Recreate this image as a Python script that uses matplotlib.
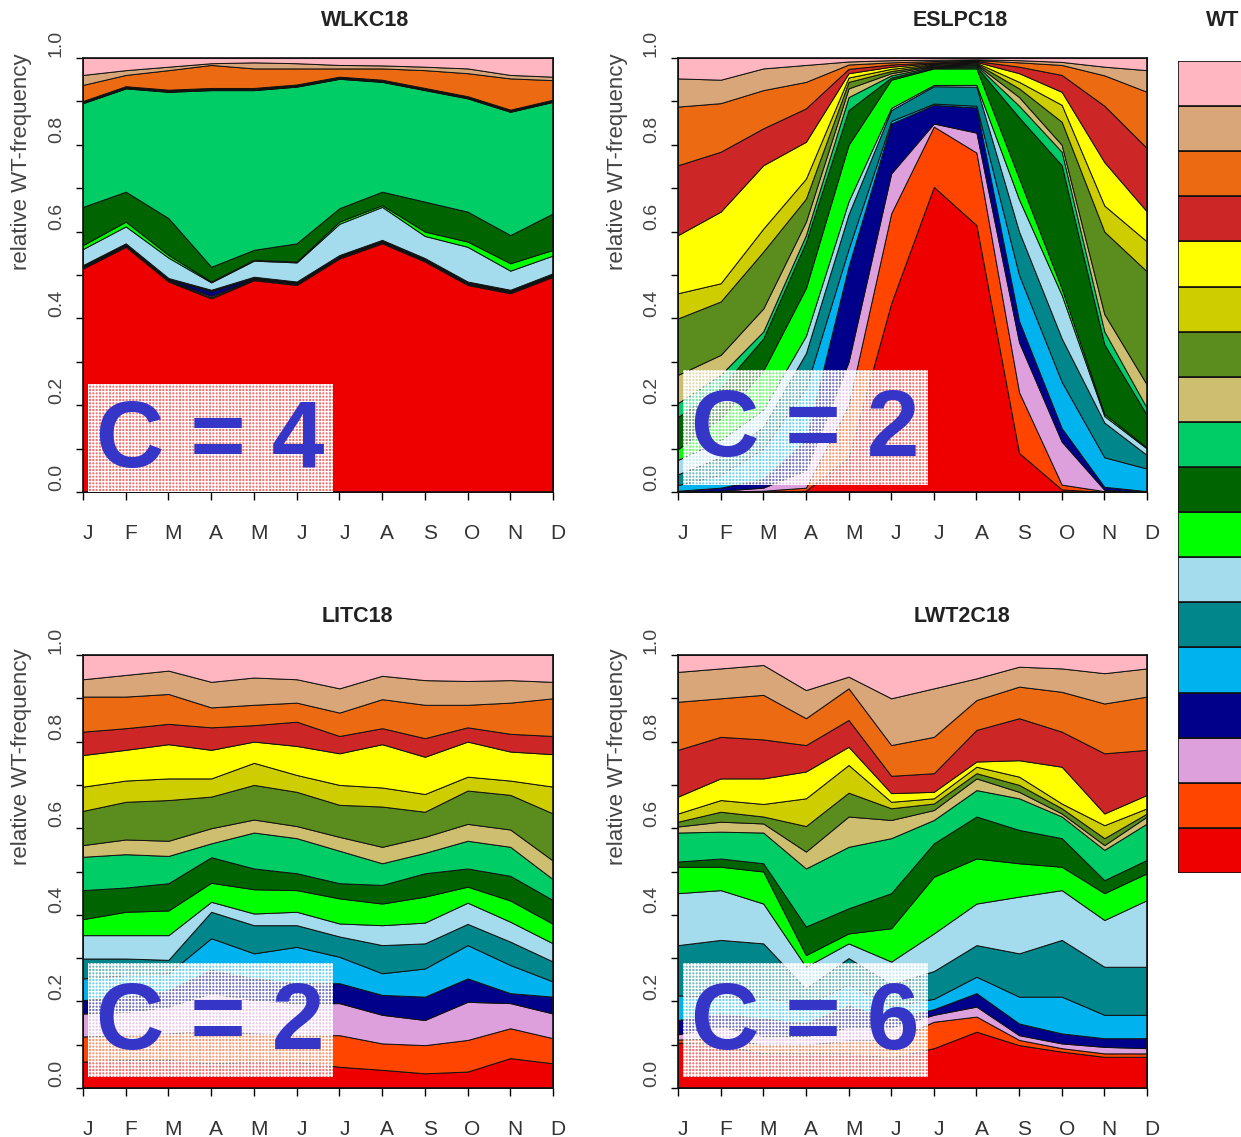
import numpy as np
import matplotlib
matplotlib.use('Agg')
import matplotlib.pyplot as plt
from matplotlib.patches import Rectangle
from matplotlib.transforms import ScaledTranslation

plt.rcParams['font.family'] = ['Liberation Sans', 'DejaVu Sans']
plt.rcParams['hatch.color'] = 'white'
plt.rcParams['hatch.linewidth'] = 0.9

months = ['J', 'F', 'M', 'A', 'M', 'J', 'J', 'A', 'S', 'O', 'N', 'D']

# WT classes 1 (bottom) .. 18 (top)
wt_colors = ['#EE0000', '#FF4500', '#DDA0DD', '#00008B', '#00B2EE', '#00868B',
             '#A4DCEE', '#00FF00', '#006400', '#00CD66', '#CDBE70', '#5B8C1E',
             '#CDCD00', '#FFFF00', '#CD2626', '#EC6A12', '#D9A67A', '#FFB6C1']

# cumulative relative WT-frequency (upper edge of class 1..18), Jan..Dec
wlkc18 = [
    [0.515, 0.565, 0.485, 0.446, 0.488, 0.477, 0.538, 0.573, 0.531, 0.477, 0.458, 0.496],
    [0.517, 0.567, 0.487, 0.449, 0.490, 0.479, 0.540, 0.575, 0.533, 0.479, 0.460, 0.498],
    [0.519, 0.569, 0.489, 0.452, 0.492, 0.481, 0.542, 0.577, 0.535, 0.481, 0.462, 0.500],
    [0.521, 0.571, 0.491, 0.462, 0.494, 0.483, 0.544, 0.579, 0.537, 0.483, 0.464, 0.502],
    [0.522, 0.572, 0.492, 0.464, 0.495, 0.484, 0.545, 0.580, 0.538, 0.484, 0.465, 0.503],
    [0.523, 0.573, 0.493, 0.466, 0.496, 0.485, 0.546, 0.581, 0.539, 0.485, 0.466, 0.504],
    [0.560, 0.612, 0.540, 0.483, 0.533, 0.529, 0.618, 0.657, 0.590, 0.565, 0.510, 0.545],
    [0.569, 0.623, 0.546, 0.485, 0.535, 0.531, 0.623, 0.661, 0.600, 0.577, 0.527, 0.558],
    [0.657, 0.692, 0.631, 0.519, 0.558, 0.573, 0.654, 0.692, 0.669, 0.646, 0.592, 0.642],
    [0.896, 0.930, 0.922, 0.926, 0.926, 0.934, 0.952, 0.945, 0.926, 0.907, 0.876, 0.899],
    [0.897, 0.931, 0.923, 0.927, 0.927, 0.935, 0.953, 0.946, 0.927, 0.908, 0.877, 0.900],
    [0.898, 0.932, 0.924, 0.928, 0.928, 0.936, 0.954, 0.947, 0.928, 0.909, 0.878, 0.901],
    [0.899, 0.933, 0.925, 0.929, 0.929, 0.937, 0.955, 0.948, 0.929, 0.910, 0.879, 0.902],
    [0.900, 0.934, 0.926, 0.930, 0.930, 0.938, 0.956, 0.949, 0.930, 0.911, 0.880, 0.903],
    [0.901, 0.935, 0.927, 0.931, 0.931, 0.939, 0.957, 0.950, 0.931, 0.912, 0.881, 0.904],
    [0.938, 0.961, 0.972, 0.984, 0.976, 0.976, 0.976, 0.976, 0.972, 0.965, 0.953, 0.949],
    [0.961, 0.972, 0.980, 0.988, 0.990, 0.988, 0.984, 0.983, 0.980, 0.976, 0.961, 0.957],
    [1.0, 1.0, 1.0, 1.0, 1.0, 1.0, 1.0, 1.0, 1.0, 1.0, 1.0, 1.0],
]

eslpc18 = [
    [0.0, 0.0, 0.0, 0.003, 0.08, 0.435, 0.703, 0.615, 0.09, 0.006, 0.0, 0.0],
    [0.0, 0.001, 0.003, 0.01, 0.20, 0.642, 0.842, 0.782, 0.23, 0.017, 0.002, 0.0],
    [0.0, 0.003, 0.01, 0.05, 0.30, 0.734, 0.849, 0.828, 0.345, 0.116, 0.005, 0.0],
    [0.003, 0.01, 0.03, 0.12, 0.52, 0.849, 0.892, 0.886, 0.394, 0.147, 0.012, 0.002],
    [0.016, 0.04, 0.10, 0.24, 0.56, 0.855, 0.895, 0.89, 0.50, 0.254, 0.08, 0.054],
    [0.041, 0.08, 0.15, 0.32, 0.64, 0.88, 0.935, 0.934, 0.60, 0.354, 0.16, 0.085],
    [0.074, 0.12, 0.19, 0.36, 0.67, 0.885, 0.938, 0.938, 0.674, 0.454, 0.175, 0.10],
    [0.099, 0.17, 0.28, 0.47, 0.80, 0.95, 0.976, 0.976, 0.723, 0.469, 0.18, 0.102],
    [0.173, 0.24, 0.354, 0.576, 0.88, 0.955, 0.978, 0.98, 0.863, 0.753, 0.34, 0.177],
    [0.205, 0.27, 0.37, 0.592, 0.91, 0.96, 0.98, 0.983, 0.89, 0.784, 0.37, 0.193],
    [0.27, 0.316, 0.423, 0.623, 0.93, 0.965, 0.982, 0.985, 0.91, 0.80, 0.41, 0.247],
    [0.40, 0.439, 0.554, 0.676, 0.945, 0.97, 0.984, 0.987, 0.93, 0.853, 0.60, 0.508],
    [0.458, 0.481, 0.607, 0.722, 0.955, 0.975, 0.986, 0.989, 0.945, 0.892, 0.66, 0.577],
    [0.592, 0.646, 0.753, 0.807, 0.965, 0.98, 0.988, 0.991, 0.965, 0.922, 0.76, 0.646],
    [0.753, 0.784, 0.838, 0.884, 0.975, 0.985, 0.99, 0.993, 0.98, 0.961, 0.89, 0.792],
    [0.888, 0.896, 0.926, 0.945, 0.985, 0.99, 0.993, 0.995, 0.99, 0.984, 0.96, 0.922],
    [0.953, 0.95, 0.976, 0.984, 0.992, 0.995, 0.996, 0.997, 0.995, 0.991, 0.98, 0.972],
    [1.0, 1.0, 1.0, 1.0, 1.0, 1.0, 1.0, 1.0, 1.0, 1.0, 1.0, 1.0],
]

litc18 = [
    [0.061, 0.065, 0.065, 0.057, 0.061, 0.061, 0.049, 0.042, 0.034, 0.038, 0.069, 0.057],
    [0.119, 0.122, 0.126, 0.134, 0.126, 0.122, 0.122, 0.103, 0.099, 0.111, 0.138, 0.115],
    [0.172, 0.176, 0.188, 0.219, 0.203, 0.196, 0.196, 0.169, 0.157, 0.199, 0.196, 0.172],
    [0.203, 0.211, 0.226, 0.273, 0.253, 0.242, 0.242, 0.215, 0.211, 0.253, 0.219, 0.211],
    [0.253, 0.261, 0.265, 0.346, 0.311, 0.326, 0.303, 0.265, 0.276, 0.330, 0.284, 0.246],
    [0.299, 0.299, 0.296, 0.407, 0.376, 0.376, 0.350, 0.330, 0.334, 0.379, 0.338, 0.292],
    [0.353, 0.353, 0.353, 0.430, 0.403, 0.407, 0.380, 0.376, 0.382, 0.428, 0.384, 0.334],
    [0.390, 0.407, 0.410, 0.474, 0.459, 0.457, 0.438, 0.426, 0.442, 0.465, 0.433, 0.379],
    [0.457, 0.463, 0.473, 0.533, 0.507, 0.496, 0.473, 0.469, 0.496, 0.507, 0.490, 0.434],
    [0.534, 0.540, 0.536, 0.565, 0.590, 0.577, 0.548, 0.519, 0.543, 0.571, 0.557, 0.482],
    [0.561, 0.574, 0.571, 0.600, 0.620, 0.605, 0.580, 0.557, 0.580, 0.610, 0.597, 0.525],
    [0.640, 0.661, 0.665, 0.673, 0.700, 0.684, 0.654, 0.650, 0.638, 0.687, 0.677, 0.634],
    [0.696, 0.710, 0.715, 0.715, 0.751, 0.723, 0.700, 0.694, 0.679, 0.719, 0.710, 0.696],
    [0.769, 0.781, 0.794, 0.781, 0.800, 0.790, 0.773, 0.794, 0.765, 0.800, 0.777, 0.771],
    [0.823, 0.831, 0.841, 0.833, 0.838, 0.846, 0.813, 0.831, 0.808, 0.833, 0.818, 0.813],
    [0.904, 0.904, 0.910, 0.879, 0.885, 0.890, 0.867, 0.898, 0.885, 0.885, 0.890, 0.900],
    [0.944, 0.954, 0.964, 0.938, 0.948, 0.944, 0.923, 0.952, 0.942, 0.940, 0.942, 0.938],
    [1.0, 1.0, 1.0, 1.0, 1.0, 1.0, 1.0, 1.0, 1.0, 1.0, 1.0, 1.0],
]

lwt2c18 = [
    [0.105, 0.100, 0.080, 0.080, 0.080, 0.070, 0.092, 0.130, 0.099, 0.084, 0.072, 0.072],
    [0.112, 0.115, 0.100, 0.100, 0.110, 0.110, 0.153, 0.165, 0.111, 0.092, 0.080, 0.080],
    [0.124, 0.142, 0.120, 0.120, 0.140, 0.140, 0.169, 0.188, 0.122, 0.103, 0.095, 0.092],
    [0.157, 0.172, 0.160, 0.150, 0.190, 0.160, 0.182, 0.219, 0.149, 0.126, 0.115, 0.115],
    [0.214, 0.211, 0.210, 0.190, 0.240, 0.190, 0.206, 0.257, 0.211, 0.211, 0.169, 0.169],
    [0.330, 0.342, 0.334, 0.230, 0.300, 0.240, 0.270, 0.330, 0.311, 0.342, 0.280, 0.280],
    [0.450, 0.457, 0.426, 0.280, 0.334, 0.292, 0.357, 0.426, 0.442, 0.457, 0.388, 0.434],
    [0.511, 0.511, 0.500, 0.307, 0.357, 0.369, 0.488, 0.530, 0.519, 0.511, 0.450, 0.496],
    [0.523, 0.530, 0.519, 0.373, 0.415, 0.450, 0.565, 0.627, 0.596, 0.577, 0.480, 0.527],
    [0.590, 0.592, 0.590, 0.507, 0.557, 0.577, 0.619, 0.688, 0.669, 0.627, 0.550, 0.611],
    [0.604, 0.615, 0.611, 0.546, 0.627, 0.619, 0.642, 0.715, 0.684, 0.634, 0.561, 0.627],
    [0.615, 0.638, 0.627, 0.605, 0.682, 0.646, 0.657, 0.727, 0.700, 0.646, 0.577, 0.634],
    [0.634, 0.665, 0.656, 0.669, 0.746, 0.661, 0.669, 0.742, 0.719, 0.657, 0.607, 0.646],
    [0.673, 0.715, 0.715, 0.731, 0.788, 0.681, 0.684, 0.754, 0.757, 0.742, 0.634, 0.677],
    [0.781, 0.811, 0.805, 0.792, 0.850, 0.721, 0.727, 0.827, 0.854, 0.823, 0.773, 0.781],
    [0.892, 0.900, 0.908, 0.854, 0.923, 0.792, 0.811, 0.896, 0.927, 0.915, 0.888, 0.904],
    [0.961, 0.969, 0.977, 0.919, 0.950, 0.900, 0.923, 0.946, 0.973, 0.969, 0.958, 0.969],
    [1.0, 1.0, 1.0, 1.0, 1.0, 1.0, 1.0, 1.0, 1.0, 1.0, 1.0, 1.0],
]

titles = ['WLKC18', 'ESLPC18', 'LITC18', 'LWT2C18']
c_labels = ['C = 4', 'C = 2', 'C = 2', 'C = 6']

W, H = 1241, 1137
fig = plt.figure(figsize=(W / 100, H / 100), dpi=100)


def rect(x0, y0, x1, y1):
    return [x0 / W, 1 - y1 / H, (x1 - x0) / W, (y1 - y0) / H]


panels = [
    (wlkc18, rect(83, 58, 553, 492), (365, 20), (22, 162), (0.011, 0.0, 0.532, 0.249)),
    (eslpc18, rect(678, 58, 1147, 492), (960, 20), (617, 162), (0.011, 0.016, 0.533, 0.281)),
    (litc18, rect(83, 655, 553, 1088), (357, 617), (22, 757), (0.011, 0.025, 0.532, 0.289)),
    (lwt2c18, rect(678, 655, 1147, 1088), (962, 617), (617, 757), (0.011, 0.025, 0.533, 0.289)),
]

x = np.arange(12)
for (cum, pos, tpos, ypos, box), title, clab in zip(panels, titles, c_labels):
    ax = fig.add_axes(pos)
    cum = np.array(cum)
    layers = np.clip(np.diff(np.vstack([np.zeros(12), cum]), axis=0), 0, None)
    ax.stackplot(x, layers, colors=wt_colors, edgecolor='#111111', linewidth=0.7)
    ax.set_xlim(0, 11)
    ax.set_ylim(0, 1)
    ax.set_xticks(x)
    ax.set_xticklabels(months)
    ax.set_yticks(np.arange(0, 1.01, 0.1))
    ax.set_yticklabels(['0.0', '', '0.2', '', '0.4', '', '0.6', '', '0.8', '', '1.0'])
    ax.tick_params(axis='x', direction='out', length=6, width=1, pad=17,
                   labelsize=15, labelcolor='#333333')
    ax.tick_params(axis='y', direction='out', length=5, width=1, pad=8,
                   labelsize=14, labelcolor='#444444')
    for lab in ax.get_yticklabels():
        lab.set_rotation(90)
        lab.set_va('center')
        lab.set_transform(lab.get_transform() + ScaledTranslation(0, 0.15, fig.dpi_scale_trans))
    for lab in ax.get_xticklabels():
        lab.set_transform(lab.get_transform() + ScaledTranslation(0.05, 0, fig.dpi_scale_trans))
    for sp in ax.spines.values():
        sp.set_linewidth(1.2)
        sp.set_color('#111111')

    bx0, by0, bx1, by1 = box
    ax.add_patch(Rectangle((bx0, by0), bx1 - bx0, by1 - by0, transform=ax.transAxes,
                           facecolor=(1, 1, 1, 0.45), edgecolor='white', linewidth=0,
                           hatch='+++++', zorder=5))
    ax.text((bx0 + bx1) / 2, (by0 + by1) / 2 - 0.01, clab, transform=ax.transAxes,
            ha='center', va='center', fontsize=68, fontweight='bold',
            color='#3535C8', zorder=6)

    fig.text(tpos[0] / W, 1 - tpos[1] / H, title, ha='center', va='center',
             fontsize=15.5, fontweight='bold', color='#222222')
    fig.text(ypos[0] / W, 1 - ypos[1] / H, 'relative WT-frequency', rotation=90,
             ha='center', va='center', fontsize=16, color='#444444')

# legend column (cut at the right border as in the original)
lax = fig.add_axes(rect(1178, 61, 1300, 873))
lax.barh(np.arange(18), np.ones(18), height=1.0, left=0, color=wt_colors,
         edgecolor='#111111', linewidth=1.2)
lax.set_xlim(0, 1)
lax.set_ylim(-0.5, 17.5)
lax.axis('off')
fig.text(1206 / W, 1 - 20 / H, 'WT', ha='left', va='center',
         fontsize=15.5, fontweight='bold', color='#222222')

fig.savefig('out.png', dpi=100)
